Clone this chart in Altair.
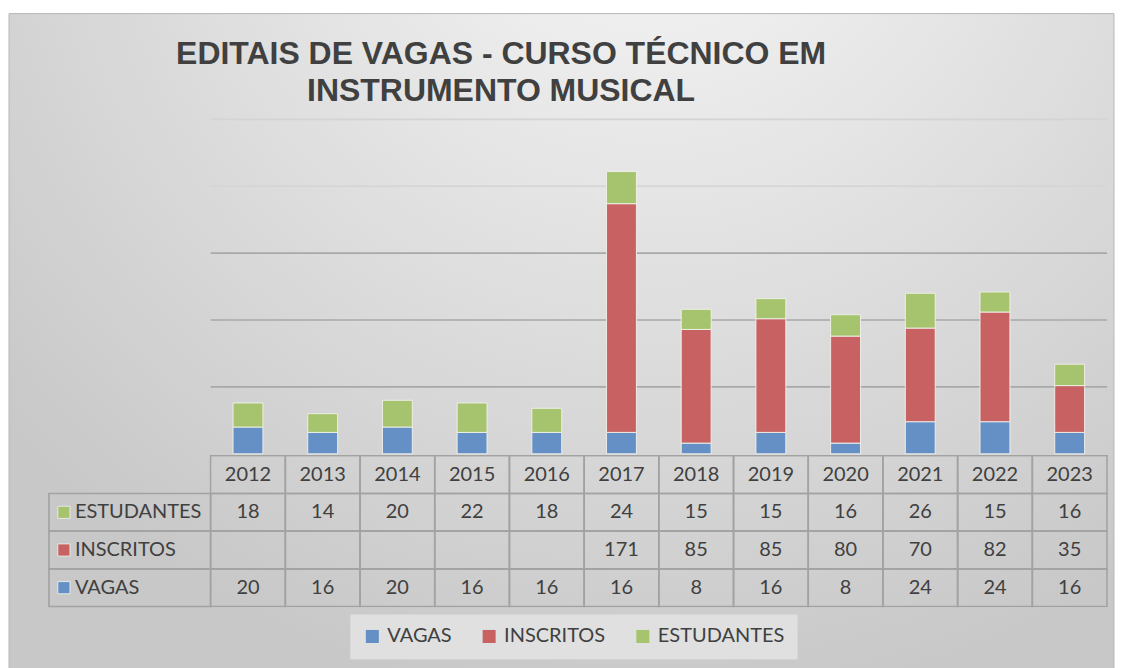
import altair as alt
import pandas as pd

# ---------------- data ----------------
years = ["2012", "2013", "2014", "2015", "2016", "2017",
         "2018", "2019", "2020", "2021", "2022", "2023"]
vagas = [20, 16, 20, 16, 16, 16, 8, 16, 8, 24, 24, 16]
inscritos = [None, None, None, None, None, 171, 85, 85, 80, 70, 82, 35]
estudantes = [18, 14, 20, 22, 18, 24, 15, 15, 16, 26, 15, 16]
series = ["VAGAS", "INSCRITOS", "ESTUDANTES"]
colors = ["#6590c6", "#c86262", "#a6c36e"]
table_rows = ["ANO", "ESTUDANTES", "INSCRITOS", "VAGAS"]
title_text = "EDITAIS DE VAGAS - CURSO TÉCNICO EM\nINSTRUMENTO MUSICAL"
grid_values = [50, 100, 150, 200, 250]

values_by_series = {"VAGAS": vagas, "INSCRITOS": inscritos, "ESTUDANTES": estudantes}

# long table for stacked bars
bar_rows = []
for k, s in enumerate(series):
    for y, v in zip(years, values_by_series[s]):
        if v is not None:
            bar_rows.append({"year": y, "series": s, "value": v, "ord": k})
bars_df = pd.DataFrame(bar_rows)

# table cells
cell_rows = []
for y in years:
    cell_rows.append({"year": y, "row": "ANO", "txt": y})
for s in ["ESTUDANTES", "INSCRITOS", "VAGAS"]:
    for y, v in zip(years, values_by_series[s]):
        cell_rows.append({"year": y, "row": s, "txt": "" if v is None else str(v)})
cells_df = pd.DataFrame(cell_rows)

head_df = pd.DataFrame({"row": ["ESTUDANTES", "INSCRITOS", "VAGAS"],
                        "clr": [colors[2], colors[1], colors[0]]})

W = 898
H_BAR = 335
H_TAB = 151
FONT = "Lato"
TXT = "#404040"

bg_gradient = {
    "gradient": "radial",
    "x1": 0.58, "y1": 0.05, "r1": 0,
    "x2": 0.58, "y2": 0.05, "r2": 0.78,
    "stops": [
        {"offset": 0, "color": "#f8f8f8"},
        {"offset": 1, "color": "#c8c8c8"},
    ],
}

yscale = alt.Scale(domain=[0, 250], nice=False, zero=True)
xband = alt.Scale(domain=years, paddingInner=0.6, paddingOuter=0.3)

# ---------------- top: stacked bars ----------------
bg = alt.Chart(pd.DataFrame({"a": [0]})).mark_rect(
    fill=bg_gradient, stroke="#b8b8b8", strokeWidth=1, clip=False
).encode(
    x=alt.value(-202), x2=alt.value(905), y=alt.value(-106), y2=alt.value(560)
)

grid_df = pd.DataFrame({"g": grid_values})
grid = alt.Chart(grid_df).mark_rule(strokeWidth=1.6).encode(
    y=alt.Y("g:Q", scale=yscale, axis=None),
    color=alt.condition("datum.g >= 200", alt.value("#d4d4d4"), alt.value("#a8a8a8")),
)

title = alt.Chart(pd.DataFrame({"t": [title_text]})).mark_text(
    font="Liberation Sans", fontSize=32, fontWeight="bold", color=TXT,
    align="center", baseline="alphabetic", lineBreak="\n", lineHeight=38, clip=False
).encode(
    x=alt.value(291), y=alt.value(-56), text="t:N"
)

bars = alt.Chart(bars_df).mark_bar(
    stroke="#f2f2ec", strokeWidth=1, strokeOpacity=0.9
).encode(
    x=alt.X("year:N", scale=xband,
            axis=alt.Axis(labels=False, ticks=False, title=None,
                          domainColor="#6e6e6e", domainWidth=2, grid=False)),
    y=alt.Y("value:Q", stack="zero", scale=yscale, axis=None),
    color=alt.Color("series:N", scale=alt.Scale(domain=series, range=colors),
                    legend=alt.Legend(orient="none", legendX=140, legendY=496,
                                      direction="horizontal", title=None,
                                      labelFont=FONT, labelFontSize=20, labelColor=TXT,
                                      symbolType="square", symbolSize=170,
                                      symbolStrokeWidth=0, symbolOpacity=1,
                                      columnPadding=27, labelOffset=5,
                                      padding=12, fillColor="#e0e0e0",
                                      strokeColor="#e0e0e0")),
    order=alt.Order("ord:Q", sort="ascending"),
)

top = alt.layer(bg, grid, title, bars).properties(width=W, height=H_BAR)

# ---------------- bottom: data table ----------------
xtab = alt.Scale(domain=years, paddingInner=0, paddingOuter=0)
ytab = alt.Scale(domain=table_rows, paddingInner=0, paddingOuter=0)

grid_cells = alt.Chart(cells_df).mark_rect(
    fill="#ffffff", fillOpacity=0, stroke="#a2a2a2", strokeWidth=1.6
).encode(
    x=alt.X("year:N", scale=xtab, axis=None),
    y=alt.Y("row:N", scale=ytab, axis=None),
)

head_cells = alt.Chart(head_df).mark_rect(
    fill="#ffffff", fillOpacity=0, stroke="#a2a2a2", strokeWidth=1.6, clip=False
).encode(
    x=alt.value(-162), x2=alt.value(0),
    y=alt.Y("row:N", scale=ytab, axis=None),
)

cell_text = alt.Chart(cells_df).mark_text(
    font=FONT, fontSize=20, color=TXT
).encode(
    x=alt.X("year:N", scale=xtab, axis=None),
    y=alt.Y("row:N", scale=ytab, axis=None),
    text="txt:N",
)

head_squares = alt.Chart(head_df).mark_square(
    size=150, opacity=1, stroke="#e8e8e8", strokeWidth=1, clip=False
).encode(
    x=alt.value(-147),
    y=alt.Y("row:N", scale=ytab, axis=None),
    color=alt.Color("clr:N", scale=None),
)

head_text = alt.Chart(head_df).mark_text(
    font=FONT, fontSize=20, color=TXT, align="left", clip=False
).encode(
    x=alt.value(-136),
    y=alt.Y("row:N", scale=ytab, axis=None),
    text="row:N",
)

table = alt.layer(grid_cells, head_cells, cell_text, head_squares, head_text).properties(
    width=W, height=H_TAB
)

chart = alt.vconcat(top, table, spacing=2, bounds="flush").resolve_scale(
    color="independent"
).properties(
    padding={"left": 0, "top": 4, "right": 0, "bottom": 0}
).configure_view(stroke=None).configure(background="white")

chart.save("out.html", embed_options={"renderer": "svg", "actions": False})
